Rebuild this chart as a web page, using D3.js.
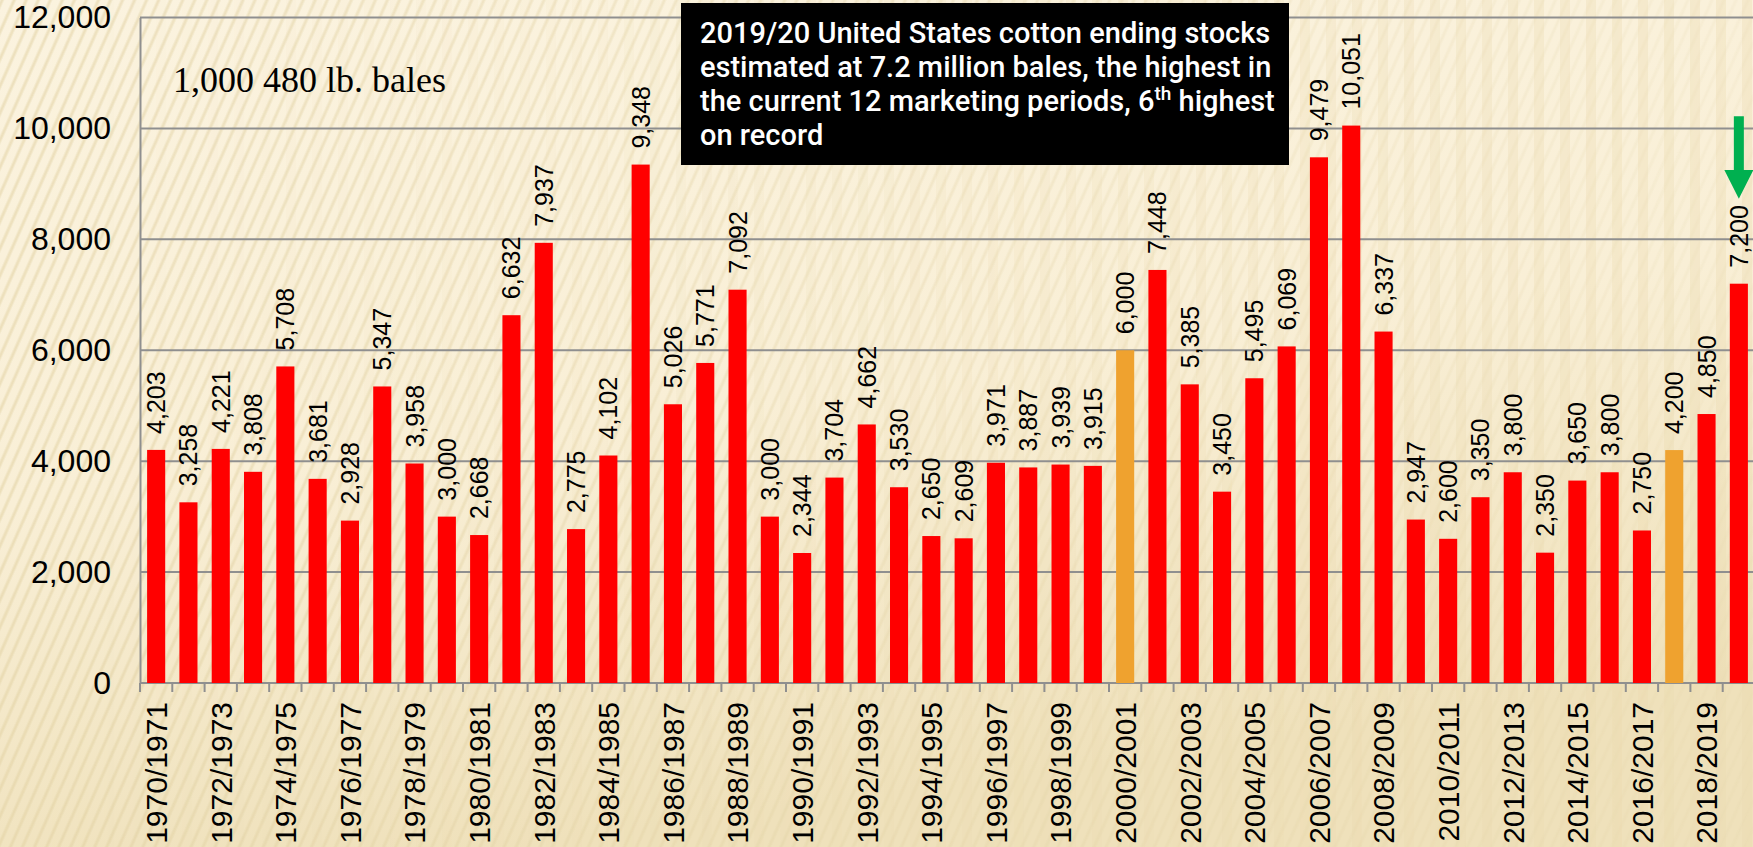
<!DOCTYPE html>
<html>
<head>
<meta charset="utf-8">
<script src="https://cdn.jsdelivr.net/npm/d3@7"></script>
<style>
  body { margin: 0; overflow: hidden; background: #f7ecd2; }
</style>
</head>
<body>
<div id="chart"></div>
<script>
var seasons = [
  "1970/1971", "1971/1972", "1972/1973", "1973/1974", "1974/1975",
  "1975/1976", "1976/1977", "1977/1978", "1978/1979", "1979/1980",
  "1980/1981", "1981/1982", "1982/1983", "1983/1984", "1984/1985",
  "1985/1986", "1986/1987", "1987/1988", "1988/1989", "1989/1990",
  "1990/1991", "1991/1992", "1992/1993", "1993/1994", "1994/1995",
  "1995/1996", "1996/1997", "1997/1998", "1998/1999", "1999/2000",
  "2000/2001", "2001/2002", "2002/2003", "2003/2004", "2004/2005",
  "2005/2006", "2006/2007", "2007/2008", "2008/2009", "2009/2010",
  "2010/2011", "2011/2012", "2012/2013", "2013/2014", "2014/2015",
  "2015/2016", "2016/2017", "2017/2018", "2018/2019", "2019/2020"
];
var endingStocks = [
  4203, 3258, 4221, 3808, 5708, 3681, 2928, 5347, 3958, 3000,
  2668, 6632, 7937, 2775, 4102, 9348, 5026, 5771, 7092, 3000,
  2344, 3704, 4662, 3530, 2650, 2609, 3971, 3887, 3939, 3915,
  6000, 7448, 5385, 3450, 5495, 6069, 9479, 10051, 6337, 2947,
  2600, 3350, 3800, 2350, 3650, 3800, 2750, 4200, 4850, 7200
];
var orangeSeasons = ["2000/2001", "2017/2018"];
var xTickLabels = seasons.filter(function(d, i) { return i % 2 == 0; });
var yTicks = [0, 2000, 4000, 6000, 8000, 10000, 12000];
var unitsLabel = "1,000 480 lb. bales";
var noteLines = [
  "2019/20 United States cotton ending stocks",
  "estimated at 7.2 million bales, the highest in",
  "the current 12 marketing periods, 6^th highest",
  "on record"
];
var arrowSeason = "2019/2020";

class EndingStocksChart {
  constructor(container, margin, width, height) {
    this.container = container;
    this.margin = margin;
    this.width = width;
    this.height = height;
    this.draw();
  }

  draw() {
    this.x = d3.scaleBand().domain(seasons).range([0, this.width])
      .paddingInner(0.44).paddingOuter(0.22);
    this.y = d3.scaleLinear().domain([0, 12000]).range([this.height, 0]);

    this.svg = d3.select(this.container).append("svg")
      .attr("width", 1753)
      .attr("height", 847);

    this.drawBackground();

    this.plot = this.svg.append("g")
      .attr("transform", "translate(" + this.margin.left + "," + this.margin.top + ")");

    this.createAxes();
    this.drawBars();
    this.drawNotes();
  }

  drawBackground() {
    var defs = this.svg.append("defs");

    var grad = defs.append("linearGradient").attr("id", "bgGrad")
      .attr("x1", 0).attr("y1", 0).attr("x2", 0.3).attr("y2", 1);
    grad.append("stop").attr("offset", "0%").attr("stop-color", "#fbf3df");
    grad.append("stop").attr("offset", "55%").attr("stop-color", "#f9efd6");
    grad.append("stop").attr("offset", "100%").attr("stop-color", "#efe1bb");

    var hatch = defs.append("pattern").attr("id", "hatch")
      .attr("patternUnits", "userSpaceOnUse")
      .attr("width", 11).attr("height", 11)
      .attr("patternTransform", "rotate(24)");
    hatch.append("line")
      .attr("x1", 2).attr("y1", 0).attr("x2", 2).attr("y2", 11)
      .attr("stroke", "#e2d1a4").attr("stroke-width", 3).attr("stroke-opacity", 0.55);

    // soft vertical streaks, stronger on the right
    var streak = defs.append("pattern").attr("id", "streak")
      .attr("patternUnits", "userSpaceOnUse")
      .attr("width", 26).attr("height", 847);
    streak.append("rect").attr("x", 0).attr("width", 10).attr("height", 847)
      .attr("fill", "#e9d9ae").attr("fill-opacity", 0.35);

    var fade = defs.append("linearGradient").attr("id", "fadeGrad")
      .attr("x1", 0).attr("y1", 0).attr("x2", 1).attr("y2", 0);
    fade.append("stop").attr("offset", "0%").attr("stop-color", "#fff").attr("stop-opacity", 1);
    fade.append("stop").attr("offset", "60%").attr("stop-color", "#fff").attr("stop-opacity", 0.5);
    fade.append("stop").attr("offset", "100%").attr("stop-color", "#fff").attr("stop-opacity", 0.2);
    defs.append("mask").attr("id", "fadeMask")
      .append("rect").attr("width", 1753).attr("height", 847).attr("fill", "url(#fadeGrad)");

    var fadeR = defs.append("linearGradient").attr("id", "fadeGradR")
      .attr("x1", 0).attr("y1", 0).attr("x2", 1).attr("y2", 0);
    fadeR.append("stop").attr("offset", "0%").attr("stop-color", "#fff").attr("stop-opacity", 0);
    fadeR.append("stop").attr("offset", "50%").attr("stop-color", "#fff").attr("stop-opacity", 0.4);
    fadeR.append("stop").attr("offset", "100%").attr("stop-color", "#fff").attr("stop-opacity", 1);
    defs.append("mask").attr("id", "fadeMaskR")
      .append("rect").attr("width", 1753).attr("height", 847).attr("fill", "url(#fadeGradR)");

    this.svg.append("rect").attr("width", 1753).attr("height", 847).attr("fill", "url(#bgGrad)");
    this.svg.append("rect").attr("width", 1753).attr("height", 847)
      .attr("fill", "url(#hatch)").attr("mask", "url(#fadeMask)");
    this.svg.append("rect").attr("width", 1753).attr("height", 847)
      .attr("fill", "url(#streak)").attr("mask", "url(#fadeMaskR)");
  }

  createAxes() {
    var fmt = d3.format(",");

    // horizontal gridlines
    this.plot.append("g").selectAll("line")
      .data(yTicks.filter(function(d) { return d > 0; }))
      .enter().append("line")
        .attr("x1", 0).attr("x2", this.width)
        .attr("y1", d => this.y(d)).attr("y2", d => this.y(d))
        .attr("stroke", "#8f8f8f").attr("stroke-width", 2);

    this.yAxisCall = d3.axisLeft(this.y).tickValues(yTicks).tickFormat(fmt).tickSize(0).tickPadding(29);
    this.yAxis = this.plot.append("g").call(this.yAxisCall);
    this.yAxis.select(".domain").attr("stroke", "#8f8f8f").attr("stroke-width", 2);
    this.yAxis.selectAll("text")
      .attr("font-family", "'Liberation Sans', Arial, sans-serif")
      .attr("font-size", 32).attr("fill", "#000");

    // band boundary ticks along the baseline
    var step = this.x.step();
    var x = this.x;
    this.plot.append("g").selectAll("line")
      .data(seasons)
      .enter().append("line")
        .attr("x1", d => x(d) - step * 0.22).attr("x2", d => x(d) - step * 0.22)
        .attr("y1", this.height).attr("y2", this.height + 9)
        .attr("stroke", "#8f8f8f").attr("stroke-width", 2);

    this.plot.append("line")
      .attr("x1", 0).attr("x2", this.width)
      .attr("y1", this.height).attr("y2", this.height)
      .attr("stroke", "#8f8f8f").attr("stroke-width", 2);

    this.plot.append("g").selectAll("text")
      .data(xTickLabels)
      .enter().append("text")
        .attr("transform", d => "translate(" + (x(d) + x.bandwidth() / 2) + "," + (this.height + 19) + ") rotate(-90)")
        .attr("dy", "0.36em")
        .attr("text-anchor", "end")
        .attr("font-family", "'Liberation Sans', Arial, sans-serif")
        .attr("font-size", 30)
        .attr("fill", "#000")
        .text(d => d);
  }

  drawBars() {
    var x = this.x, y = this.y;
    var data = seasons.map(function(s, i) { return { season: s, value: endingStocks[i] }; });

    this.plot.selectAll("rect.bar")
      .data(data)
      .enter().append("rect")
        .attr("class", "bar")
        .attr("x", d => x(d.season))
        .attr("y", d => y(d.value))
        .attr("width", x.bandwidth())
        .attr("height", d => y(0) - y(d.value))
        .attr("fill", d => orangeSeasons.indexOf(d.season) >= 0 ? "#efa22f" : "#ff0000");

    this.plot.selectAll("text.val")
      .data(data)
      .enter().append("text")
        .attr("class", "val")
        .attr("transform", d => "translate(" + (x(d.season) + x.bandwidth() / 2) + "," + (y(d.value) - 16) + ") rotate(-90)")
        .attr("dy", "0.36em")
        .attr("font-family", "'Liberation Sans', Arial, sans-serif")
        .attr("font-size", 25)
        .attr("fill", "#000")
        .text(d => d3.format(",")(d.value));

    // green arrow above the latest season
    var ax = x(arrowSeason) + x.bandwidth() / 2;
    var top = y(10220), headTop = y(9250), tip = y(8730);
    this.plot.append("path")
      .attr("d", "M" + (ax - 5) + "," + top + "H" + (ax + 5) + "V" + headTop + "H" + (ax + 14.5) +
        "L" + ax + "," + tip + "L" + (ax - 14.5) + "," + headTop + "H" + (ax - 5) + "Z")
      .attr("fill", "#00b050");
  }

  drawNotes() {
    this.svg.append("text")
      .attr("x", 173).attr("y", 92)
      .attr("font-family", "'Liberation Serif', 'Times New Roman', serif")
      .attr("font-size", 36)
      .attr("fill", "#000")
      .text(unitsLabel);

    var note = this.svg.append("g");
    note.append("rect")
      .attr("x", 681).attr("y", 3).attr("width", 608).attr("height", 162)
      .attr("fill", "#000");

    var t = note.append("text")
      .attr("font-family", "Roboto, 'Liberation Sans', sans-serif")
      .attr("font-size", 29)
      .attr("font-weight", 500)
      .attr("fill", "#fff");
    noteLines.forEach(function(line, i) {
      var parts = line.split("^th");
      t.append("tspan").attr("x", 700).attr("y", 43 + i * 34).text(parts[0]);
      if (parts.length > 1) {
        t.append("tspan").attr("font-size", 19).attr("dy", -11).text("th");
        t.append("tspan").attr("dy", 11).text(parts[1]);
      }
    });
  }
}

var chart = new EndingStocksChart("#chart", { top: 17.5, left: 140 }, 1615, 665.5);
</script>
</body>
</html>
